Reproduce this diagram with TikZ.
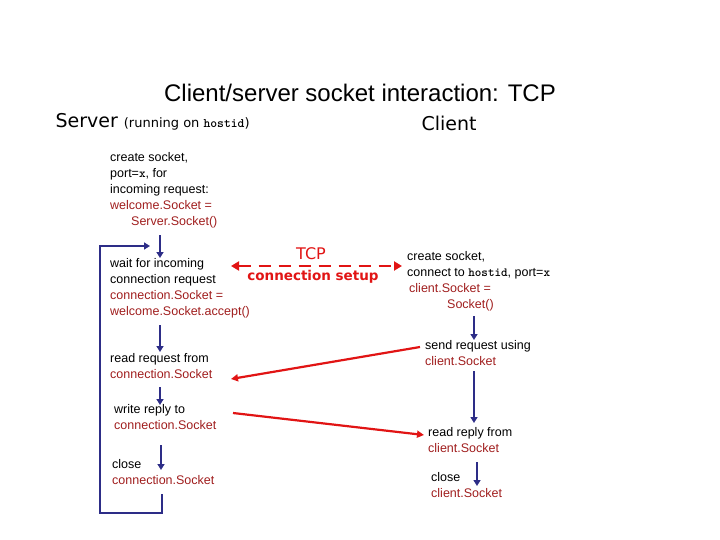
\documentclass[tikz,border=0pt]{standalone}
\usepackage{fontspec}
\setmainfont{Liberation Sans}
\newfontfamily\comic{DejaVu Sans}
\usetikzlibrary{arrows.meta}
\definecolor{codered}{RGB}{160,30,30}
\definecolor{flowblue}{RGB}{45,45,135}
\definecolor{msgred}{RGB}{225,20,20}
\newcommand{\cs}[1]{\textcolor{codered}{#1}}
\tikzset{
  action/.style={anchor=north west,align=left,inner sep=0pt,font=\fontsize{12.5}{16}\selectfont},
  flow/.style={draw=flowblue,line width=2.2pt,-{Triangle[length=6pt,width=7pt]}},
  msg/.style={draw=msgred,line width=2.2pt,-{Triangle[length=7pt,width=7pt]}},
}
\begin{document}
\begin{tikzpicture}[x=1pt,y=-1pt]
\useasboundingbox (0,0) rectangle (720,540);
%% headings
\node (title) at (360,93) {\fontsize{24}{28}\selectfont Client/server socket interaction: TCP};
\node[anchor=west] (server) at (52,122) {\comic\fontsize{19}{22}\selectfont Server \fontsize{13}{16}\selectfont(running on \texttt{\textbf{hostid}})};
\node[anchor=west] (client) at (418,123) {\comic\fontsize{19}{22}\selectfont Client};
%% server nodes
\node[action] (sCreate) at (110,152) {create socket,\\port=\texttt{\textbf{x}}, for\\incoming request:\\\cs{welcome.Socket =}\\\cs{\hspace{21pt}Server.Socket()}};
\node[action] (sWait) at (110,258) {wait for incoming\\connection request\\\cs{connection.Socket =}\\\cs{welcome.Socket.accept()}};
\node[action] (sRead) at (110,353) {read request from\\\cs{connection.Socket}};
\node[action] (sWrite) at (114,404) {write reply to\\\cs{connection.Socket}};
\node[action] (sClose) at (112,459) {close\\\cs{connection.Socket}};
%% client nodes
\node[action] (cCreate) at (407,251) {create socket,\\connect to \texttt{\textbf{hostid}}, port=\texttt{\textbf{x}}\\\cs{\hspace{2pt}client.Socket =}\\\cs{\hspace{40pt}Socket()}};
\node[action] (cSend) at (425,340) {send request using\\\cs{client.Socket}};
\node[action] (cRead) at (428,427) {read reply from\\\cs{client.Socket}};
\node[action] (cClose) at (431,472) {close\\\cs{client.Socket}};
%% corner points of the loop
\coordinate (loopA) at (162,494);
\coordinate (loopB) at (100,513);
\coordinate (loopC) at (150,246);
%%% server flow
\draw[flow] (160,235) -- (160,258);
\draw[flow] (160,325) -- (160,352);
\draw[flow] (160,387) -- (160,405);
\draw[flow] (161,445) -- (161,470);
\draw[draw=flowblue,line width=2.8pt,-{Triangle[length=6pt,width=7pt]}] (loopA) |- (loopB) |- (loopC);
%%% client flow
\draw[flow] (474,316) -- (474,340);
\draw[flow] (474,371) -- (474,423);
\draw[flow] (477,462) -- (477,486);
%%% messages
\draw[msgred,line width=2.8pt,dash pattern=on 12pt off 8pt,{Triangle[length=8pt,width=9pt]}-{Triangle[length=8pt,width=9pt]}] (231,266) -- (402,266);
\node[text=msgred] (tcp) at (311,254) {\comic\fontsize{16}{18}\selectfont TCP};
\node[text=msgred] (setup) at (313,277) {\comic\bfseries\fontsize{13.5}{16}\selectfont connection setup};
\draw[msg] (420,347) -- (231,379);
\draw[msg] (233,413) -- (424,435);
\end{tikzpicture}
\end{document}
